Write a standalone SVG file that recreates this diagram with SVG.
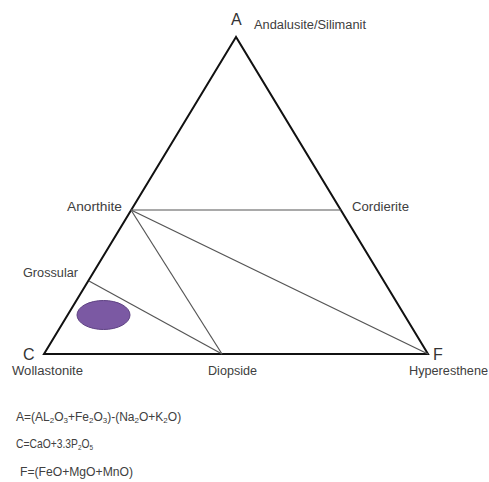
<svg xmlns="http://www.w3.org/2000/svg" width="489" height="482" viewBox="0 0 489 482">
<style>
text{font-family:"Liberation Sans","Open Sans",sans-serif;fill:#404040;font-size:12px}
.big{font-size:16px;fill:#333}
.sub{font-size:8px}
.outer{fill:none;stroke:#111;stroke-width:2}
.tie{stroke:#555;stroke-width:1.2;fill:none}
</style>
<rect width="489" height="482" fill="#fff"/>
<g id="connectors">
<polygon class="outer" points="236,37 44,354 428,354"/>
<line class="tie" x1="131" y1="210" x2="341" y2="210"/>
<line class="tie" x1="131" y1="210" x2="222" y2="354"/>
<line class="tie" x1="131" y1="210" x2="428" y2="354"/>
<line class="tie" x1="89" y1="281" x2="222" y2="354"/>
</g>
<g id="A"><text class="big" x="231" y="25">A</text><text x="254" y="29" textLength="112" lengthAdjust="spacingAndGlyphs">Andalusite/Silimanit</text></g>
<g id="C"><text class="big" x="23" y="360">C</text><text x="12" y="375" textLength="71" lengthAdjust="spacingAndGlyphs">Wollastonite</text></g>
<g id="F"><text class="big" x="433" y="360">F</text><text x="409" y="375" textLength="79" lengthAdjust="spacingAndGlyphs">Hyperesthene</text></g>
<g id="anorthite"><text x="67" y="211" textLength="55" lengthAdjust="spacingAndGlyphs">Anorthite</text></g>
<g id="cordierite"><text x="352" y="211" textLength="57" lengthAdjust="spacingAndGlyphs">Cordierite</text></g>
<g id="grossular"><text x="23" y="277" textLength="55" lengthAdjust="spacingAndGlyphs">Grossular</text></g>
<g id="diopside"><text x="208" y="375" textLength="49" lengthAdjust="spacingAndGlyphs">Diopside</text></g>
<g id="field"><ellipse cx="103.5" cy="315" rx="26.5" ry="14.5" fill="#7b59a3" stroke="#5e4183" stroke-width="1"/></g>
<g id="formulas">
<text x="16" y="421">A=(AL<tspan class="sub" dy="2">2</tspan><tspan dy="-2">O</tspan><tspan class="sub" dy="2">3</tspan><tspan dy="-2">+Fe</tspan><tspan class="sub" dy="2">2</tspan><tspan dy="-2">O</tspan><tspan class="sub" dy="2">3</tspan><tspan dy="-2">)-(Na</tspan><tspan class="sub" dy="2">2</tspan><tspan dy="-2">O+K</tspan><tspan class="sub" dy="2">2</tspan><tspan dy="-2">O)</tspan></text>
<text transform="translate(16,448) scale(0.86,1)" x="0" y="0" font-size="11.5">C=CaO+3.3P<tspan font-size="7.5" dy="2">2</tspan><tspan dy="-2">O</tspan><tspan font-size="7.5" dy="2">5</tspan></text>
<text x="20" y="476" textLength="113" lengthAdjust="spacingAndGlyphs">F=(FeO+MgO+MnO)</text>
</g>
</svg>
